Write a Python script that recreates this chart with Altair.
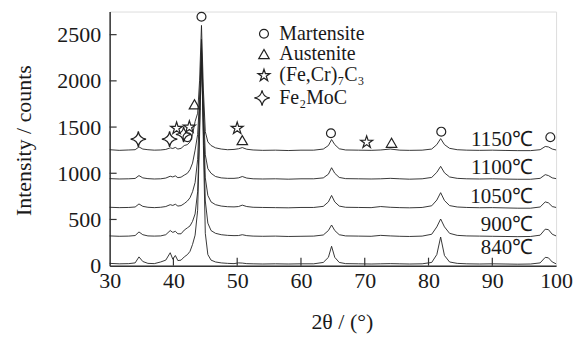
import altair as alt
import pandas as pd

# 2theta positions (deg)
two_theta = [30, 31.5, 33, 34, 34.6, 35.2, 36, 37, 38, 38.8,
             39.5, 39.9, 40.3, 40.7, 41.2, 41.7, 42.2, 42.6, 43.0, 43.4,
             43.8, 44.1, 44.4, 44.7, 45.0, 45.4, 45.9, 46.6, 47.5, 48.5,
             49.5, 50.2, 50.8, 51.5, 52.5, 54, 56, 58, 60, 62,
             63.5, 64.3, 64.8, 65.3, 66, 67, 69, 71, 72.5, 74,
             75.5, 77, 79, 80.5, 81.3, 81.9, 82.5, 83.3, 84.5, 86,
             88, 90, 92, 94, 96, 97.5, 98.3, 98.8, 99.4, 100]

i_1150 = [1255, 1248, 1252, 1255, 1285, 1262, 1255, 1250, 1252, 1258,
          1275, 1268, 1280, 1262, 1270, 1300, 1310, 1340, 1420, 1560,
          1650, 2000, 2600, 1900, 1450, 1340, 1300, 1275, 1262, 1255,
          1258, 1265, 1278, 1260, 1252, 1248, 1250, 1246, 1250, 1250,
          1262, 1300, 1365, 1310, 1265, 1252, 1250, 1248, 1252, 1262,
          1250, 1248, 1250, 1262, 1310, 1375, 1310, 1270, 1255, 1250,
          1248, 1250, 1247, 1245, 1245, 1255, 1290, 1285, 1262, 1252]

i_1100 = [942, 938, 940, 944, 975, 950, 942, 938, 940, 948,
          968, 960, 972, 952, 958, 980, 1000, 1040, 1110, 1250,
          1420, 1800, 2350, 1750, 1200, 1050, 1000, 965, 950, 945,
          945, 950, 965, 948, 940, 938, 940, 936, 940, 940,
          950, 990, 1060, 1000, 955, 942, 940, 938, 940, 945,
          940, 936, 940, 955, 1010, 1075, 1005, 960, 945, 940,
          938, 940, 937, 935, 935, 945, 985, 975, 950, 942]

i_1050 = [632, 628, 630, 635, 668, 642, 632, 628, 632, 640,
          660, 652, 665, 645, 650, 672, 700, 735, 800, 900,
          1150, 1700, 2300, 1600, 950, 760, 690, 660, 645, 638,
          636, 640, 655, 640, 632, 630, 628, 626, 630, 630,
          642, 690, 760, 690, 645, 632, 630, 628, 640, 632,
          628, 626, 630, 648, 710, 790, 705, 650, 635, 630,
          627, 628, 625, 622, 622, 635, 690, 680, 640, 630]

i_900 = [322, 318, 320, 326, 365, 335, 322, 320, 322, 335,
         380, 360, 372, 345, 345, 385, 410, 430, 480, 560,
         800, 1500, 2200, 1450, 700, 460, 380, 350, 335, 328,
         325, 326, 335, 325, 320, 318, 320, 316, 318, 320,
         332, 380, 440, 380, 335, 322, 320, 318, 328, 322,
         318, 316, 320, 340, 420, 505, 420, 350, 328, 322,
         320, 318, 316, 314, 316, 330, 395, 390, 340, 322]

i_840 = [25, 20, 22, 30, 95, 45, 25, 22, 40, 60,
         140, 70, 110, 55, 60, 95, 120, 155, 230, 330,
         600, 1400, 2450, 1300, 350, 120, 60, 40, 30, 25,
         22, 30, 28, 22, 20, 18, 20, 18, 20, 20,
         35, 90, 210, 90, 35, 22, 20, 18, 20, 22,
         20, 18, 20, 35, 120, 310, 110, 40, 25, 20,
         18, 20, 18, 16, 18, 30, 90, 85, 40, 20]

series_names = ["840", "900", "1050", "1100", "1150"]
series_values = [i_840, i_900, i_1050, i_1100, i_1150]

# curve labels
label_text = ["1150℃", "1100℃", "1050℃", "900℃", "840℃"]
label_x = [96.4, 96.4, 96.4, 96.4, 96.4]
label_y = [1358, 1056, 743, 442, 194]

# phase markers
circle_x = [44.4, 42.2, 64.7, 82.0, 99.1, 54.2]
circle_y = [2694, 1390, 1433, 1450, 1390, 2510]
tri_x = [43.3, 50.8, 74.2, 54.2]
tri_y = [1746, 1358, 1330, 2290]
star5_x = [40.5, 42.5, 50.0, 70.3, 54.2]
star5_y = [1487, 1500, 1487, 1336, 2058]
star4_x = [34.5, 39.4, 41.6, 53.9]
star4_y = [1369, 1369, 1420, 1815]

legend_text = ["Martensite", "Austenite", "(Fe,Cr)₇C₃", "Fe₂MoC"]
legend_x = [56.6, 56.6, 56.6, 56.6]
legend_y = [2510, 2290, 2058, 1815]

x_ticks = [30, 40, 50, 60, 70, 80, 90, 100]
y_ticks = [0, 500, 1000, 1500, 2000, 2500]

FONT = "Liberation Serif"
INK = "#1a1a1a"

rows = []
for name, vals in zip(series_names, series_values):
    for xv, yv in zip(two_theta, vals):
        rows.append({"x": xv, "y": yv, "s": name})
curves = pd.DataFrame(rows)

xs = alt.Scale(domain=[30, 100], nice=False, zero=False)
ys = alt.Scale(domain=[0, 2750], nice=False)

xax = alt.Axis(values=x_ticks, format="d", ticks=False, tickSize=0, grid=False, labelFont=FONT,
               labelFontSize=22, labelColor=INK, labelPadding=5, labelFlush=False,
               domainColor="#333", domainWidth=1.5, title="2θ / (°)", titleFont=FONT,
               titleFontSize=22, titleFontWeight="normal", titleColor=INK,
               titleX=233, titleY=63, titleAlign="center", titleBaseline="alphabetic")
yax = alt.Axis(values=y_ticks, format="d", ticks=False, tickSize=0, grid=False, labelFont=FONT,
               labelFontSize=22, labelColor=INK, labelPadding=9,
               domainColor="#333", domainWidth=1.5, title="Intensity / counts",
               titleFont=FONT, titleFontSize=22, titleFontWeight="normal", titleColor=INK,
               titleX=-79, titleY=129, titleAlign="center", titleBaseline="alphabetic",
               titleAngle=270)

X = alt.X("x:Q", scale=xs, axis=xax, title="2θ / (°)")
Y = alt.Y("y:Q", scale=ys, axis=yax, title="Intensity / counts")
Xp = alt.X("x:Q", scale=xs, title="2θ / (°)")
Yp = alt.Y("y:Q", scale=ys, title="Intensity / counts")

lines = alt.Chart(curves).mark_line(color="#222", strokeWidth=0.9).encode(
    x=X, y=Y, detail="s:N",
)

xt = pd.DataFrame({"x": x_ticks[1:-1]})
xtick_layer = alt.Chart(xt).mark_rule(color="#333", strokeWidth=1.2).encode(
    x=Xp, y=alt.value(255), y2=alt.value(247),
)
yt = pd.DataFrame({"y": y_ticks[1:]})
ytick_layer = alt.Chart(yt).mark_rule(color="#333", strokeWidth=1.2).encode(
    y=Yp, x=alt.value(0), x2=alt.value(7),
)

lab = pd.DataFrame({"x": label_x, "y": label_y, "t": label_text})
labels = alt.Chart(lab).mark_text(font=FONT, fontSize=21, color=INK, align="right",
                                   baseline="middle").encode(x=Xp, y=Yp, text="t:N")

leg = pd.DataFrame({"x": legend_x, "y": legend_y, "t": legend_text})
legend_labels = alt.Chart(leg).mark_text(font=FONT, fontSize=20, color=INK, align="left",
                                          baseline="middle").encode(x=Xp, y=Yp, text="t:N")

STAR5 = ("M0,-1L0.2245,-0.309L0.951,-0.309L0.363,0.118L0.588,0.809L0,0.382"
         "L-0.588,0.809L-0.363,0.118L-0.951,-0.309L-0.2245,-0.309Z")
STAR4 = "M0,-1Q0.12,-0.12 1,0Q0.12,0.12 0,1Q-0.12,0.12 -1,0Q-0.12,-0.12 0,-1Z"


def markers(xv, yv, shape, size):
    d = pd.DataFrame({"x": xv, "y": yv})
    return alt.Chart(d).mark_point(shape=shape, size=size, filled=False, color="#222",
                                   strokeWidth=1.2, opacity=1).encode(x=Xp, y=Yp)


m1 = markers(circle_x, circle_y, "circle", 80)
m2 = markers(tri_x, tri_y, "triangle-up", 110)
m3 = markers(star5_x, star5_y, STAR5, 160)
m4 = markers(star4_x, star4_y, STAR4, 240)

chart = alt.layer(lines, xtick_layer, ytick_layer, labels, legend_labels, m1, m2, m3, m4).properties(
    width=448, height=255,
    padding={"left": 102, "top": 3, "right": 22, "bottom": 69},
    autosize=alt.AutoSizeParams(type="none"),
).configure_view(stroke="#333", strokeWidth=1.5).configure_axis(
    labelFont=FONT, titleFont=FONT, labelFontSize=22, titleFontSize=22
).configure(background="white")

chart.save("out.html", embed_options={"renderer": "svg", "actions": False})
